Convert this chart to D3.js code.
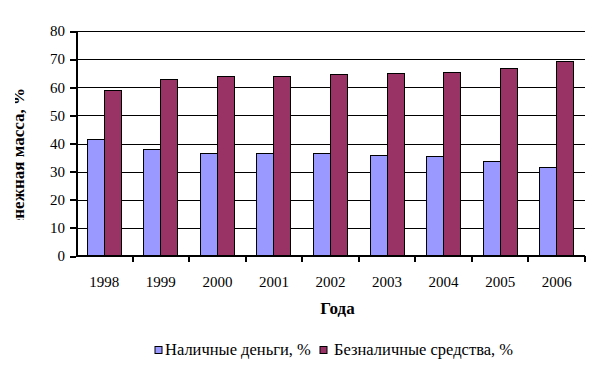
<!DOCTYPE html>
<html>
<head>
<meta charset="utf-8">
<script src="https://cdn.jsdelivr.net/npm/d3@7"></script>
<style>
  body { margin: 0; background: white; }
  .gridline { stroke: #000; stroke-width: 1; shape-rendering: crispEdges; }
  .axis path, .axis line { stroke: #000; stroke-width: 2; shape-rendering: crispEdges; }
  .bar { stroke: #000; stroke-width: 1; shape-rendering: crispEdges; }
</style>
</head>
<body>
<div id="chart"></div>
<script>
// data
var years = ["1998", "1999", "2000", "2001", "2002", "2003", "2004", "2005", "2006"];
var cash = [41.6, 37.8, 36.6, 36.6, 36.3, 35.9, 35.3, 33.7, 31.3];
var noncash = [58.8, 62.8, 63.8, 63.8, 64.4, 64.8, 65.2, 66.8, 69.1];
var seriesNames = ["Наличные деньги, %", "Безналичные средства, %"];
var seriesColors = ["#9999ff", "#993366"];
var yTicks = [0, 10, 20, 30, 40, 50, 60, 70, 80];

var serif = "Liberation Serif";

var margin = { top: 31, right: 15, bottom: 115, left: 76 };
var width = 600 - margin.left - margin.right;
var height = 371 - margin.top - margin.bottom;

var root = d3.select("#chart").append("svg")
  .attr("width", 600)
  .attr("height", 371);

// y axis title, clipped on the left like the original
root.append("clipPath").attr("id", "ylabclip")
  .append("rect").attr("x", 15).attr("y", 80).attr("width", 30).attr("height", 140);

root.append("g")
  .attr("clip-path", "url(#ylabclip)")
  .append("text")
  .attr("transform", "translate(24,88)rotate(-90)")
  .attr("text-anchor", "end")
  .attr("font-family", serif)
  .attr("font-weight", "bold")
  .attr("font-size", 17)
  .text("Денежная масса, %");

var svg = root.append("g")
  .attr("transform", "translate(" + margin.left + "," + margin.top + ")");

var x0 = d3.scaleBand().domain(years).range([0, width]).paddingInner(0).paddingOuter(0);
var x1 = d3.scaleBand().domain([0, 1]).range([x0.bandwidth() * 0.2, x0.bandwidth() * 0.8]);
var y = d3.scaleLinear().domain([0, 80]).range([height, 0]);

// gridlines
svg.append("g").selectAll("line")
  .data(yTicks.slice(1))
  .enter().append("line")
  .attr("class", "gridline")
  .attr("x1", 0).attr("x2", width)
  .attr("y1", d => Math.round(y(d)) + 0.5)
  .attr("y2", d => Math.round(y(d)) + 0.5);

// bars
var rows = years.map(function (yr, i) { return { year: yr, vals: [cash[i], noncash[i]] }; });

var groups = svg.append("g").selectAll("g")
  .data(rows)
  .enter().append("g")
  .attr("transform", d => "translate(" + x0(d.year) + ",0)");

groups.selectAll("rect")
  .data(d => d.vals.map(function (v, k) { return { k: k, v: v }; }))
  .enter().append("rect")
  .attr("class", "bar")
  .attr("x", d => x1(d.k))
  .attr("width", x1.bandwidth())
  .attr("y", d => y(d.v))
  .attr("height", d => height - y(d.v))
  .attr("fill", d => seriesColors[d.k]);

// y axis
var yAxis = svg.append("g")
  .attr("class", "axis")
  .call(d3.axisLeft(y).tickValues(yTicks).tickSize(6).tickSizeOuter(0).tickPadding(5));

yAxis.attr("font-family", serif).attr("font-size", 15);
yAxis.selectAll("text").attr("fill", "#000");

// x axis with ticks at category boundaries
var xAxis = svg.append("g")
  .attr("class", "axis")
  .attr("transform", "translate(0," + height + ")");

xAxis.append("line")
  .attr("x1", 0).attr("x2", width)
  .attr("y1", 0).attr("y2", 0);

xAxis.selectAll("line.tk")
  .data(years)
  .enter().append("line")
  .attr("class", "tk")
  .attr("x1", d => x0(d) + x0.bandwidth())
  .attr("x2", d => x0(d) + x0.bandwidth())
  .attr("y1", 0).attr("y2", 6);

xAxis.selectAll("text")
  .data(years)
  .enter().append("text")
  .attr("x", d => x0(d) + x0.bandwidth() / 2)
  .attr("y", 31)
  .attr("text-anchor", "middle")
  .attr("font-family", serif)
  .attr("font-size", 15)
  .text(d => d);

// x title
svg.append("text")
  .attr("x", width / 2 + 7)
  .attr("y", height + 58)
  .attr("text-anchor", "middle")
  .attr("font-family", serif)
  .attr("font-size", 17)
  .attr("font-weight", "bold")
  .text("Года");

// legend
var legendX = [155, 320];
var legendTextX = [165, 334];
var legend = root.append("g").selectAll("g")
  .data(seriesNames)
  .enter().append("g");

legend.append("rect")
  .attr("x", (d, i) => legendX[i])
  .attr("y", 346.5)
  .attr("width", 7).attr("height", 7)
  .attr("fill", (d, i) => seriesColors[i])
  .attr("stroke", "#000")
  .attr("stroke-width", 1);

legend.append("text")
  .attr("x", (d, i) => legendTextX[i])
  .attr("y", 355)
  .attr("font-family", serif)
  .attr("font-size", 16.5)
  .text(d => d);
</script>
</body>
</html>
